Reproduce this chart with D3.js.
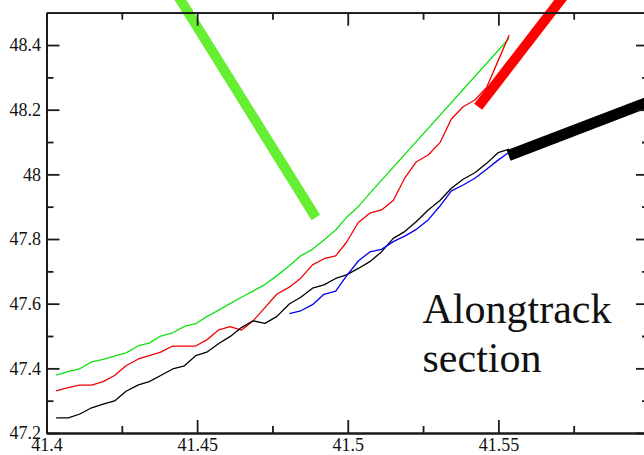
<!DOCTYPE html>
<html>
<head>
<meta charset="utf-8">
<script src="https://cdn.jsdelivr.net/npm/d3@7"></script>
<style>
  html, body { margin: 0; padding: 0; background: #ffffff; }
  svg { display: block; }
  text { font-family: "Liberation Serif", "Times New Roman", serif; fill: #111; }
</style>
</head>
<body>
<svg id="chart" width="644" height="455"></svg>
<script>
// Longitude samples shared by the along-track profiles
const lonFull = [41.4032, 41.4072, 41.4109, 41.4150, 41.4188, 41.4226, 41.4264, 41.4305, 41.4341, 41.4379,
  41.4419, 41.4458, 41.4495, 41.4532, 41.4572, 41.4609, 41.4647, 41.4686, 41.4725, 41.4764,
  41.4806, 41.4844, 41.4883, 41.4921, 41.4960, 41.4996, 41.5035, 41.5073, 41.5112, 41.5151,
  41.5189, 41.5228, 41.5267, 41.5306, 41.5344, 41.5383, 41.5422, 41.5461, 41.5499, 41.5536];

// Green profile (ends with one long straight leg)
const greenLon = [41.4032, 41.4072, 41.4109, 41.4150, 41.4188, 41.4226, 41.4264, 41.4305, 41.4341, 41.4379,
  41.4419, 41.4458, 41.4495, 41.4532, 41.4572, 41.4609, 41.4647, 41.4686, 41.4725, 41.4764,
  41.4806, 41.4844, 41.4883, 41.4921, 41.4960, 41.4996, 41.5035, 41.5073, 41.5536];
const greenLat = [47.379, 47.390, 47.398, 47.420, 47.428, 47.438, 47.448, 47.470, 47.478, 47.500,
  47.510, 47.530, 47.538, 47.560, 47.580, 47.600, 47.620, 47.639, 47.659, 47.686,
  47.717, 47.748, 47.768, 47.797, 47.828, 47.867, 47.900, 47.941, 48.421];

// Red profile
const redLat = [47.330, 47.340, 47.348, 47.348, 47.359, 47.378, 47.408, 47.429, 47.439, 47.450,
  47.469, 47.469, 47.469, 47.488, 47.519, 47.529, 47.518, 47.547, 47.588, 47.629,
  47.651, 47.679, 47.720, 47.739, 47.748, 47.790, 47.851, 47.880, 47.890, 47.919,
  47.988, 48.039, 48.060, 48.098, 48.171, 48.209, 48.230, 48.269, 48.351, 48.431];

// Black profile
const blackLat = [47.247, 47.247, 47.258, 47.278, 47.289, 47.299, 47.329, 47.349, 47.359, 47.378,
  47.398, 47.408, 47.439, 47.450, 47.477, 47.498, 47.526, 47.547, 47.539, 47.560,
  47.599, 47.620, 47.648, 47.658, 47.678, 47.689, 47.709, 47.730, 47.760, 47.802,
  47.823, 47.854, 47.890, 47.919, 47.957, 47.985, 48.005, 48.034, 48.067, 48.078];

// Blue profile (eastern half only)
const blueLon = [41.4806, 41.4844, 41.4883, 41.4921, 41.4960, 41.4996, 41.5035, 41.5073, 41.5112, 41.5151,
  41.5189, 41.5228, 41.5267, 41.5306, 41.5344, 41.5383, 41.5422, 41.5461, 41.5499, 41.5532];
const blueLat = [47.569, 47.578, 47.597, 47.629, 47.639, 47.686, 47.732, 47.760, 47.768, 47.792,
  47.809, 47.830, 47.859, 47.902, 47.949, 47.967, 47.988, 48.016, 48.044, 48.066];

// Satellite ground tracks (start and end points, lon / lat)
const trackGreenLon = [41.4894, 41.4424];
const trackGreenLat = [47.8666, 48.5702];
const trackRedLon = [41.5433, 41.5732];
const trackRedLat = [48.2093, 48.5702];
const trackBlackLon = [41.5534, 41.6035];
const trackBlackLat = [48.0583, 48.2374];

// Axis ticks (the 41.6 tick sits on the right frame edge and carries no label)
const xMajor = [41.4, 41.45, 41.5, 41.55, 41.6];
const xMinor = [41.425, 41.475, 41.525, 41.575];
const xLabels = ["41.4", "41.45", "41.5", "41.55", ""];
const yMajor = [47.2, 47.4, 47.6, 47.8, 48, 48.2, 48.4];
const yMinor = [47.3, 47.5, 47.7, 47.9, 48.1, 48.3];
const yLabels = ["47.2", "47.4", "47.6", "47.8", "48", "48.2", "48.4"];

const noteLines = ["Alongtrack", "section"];

(function draw() {
  const svg = d3.select("#chart");
  const mLeft = 46.5, mRight = 649, mTop = 12.7, mBottom = 433;

  const x = d3.scaleLinear().domain([41.4, 41.6]).range([mLeft, mRight]);
  const y = d3.scaleLinear().domain([47.2, 48.5]).range([mBottom, mTop]);

  const zip = (a, b) => a.map((v, i) => [v, b[i]]);
  const line = d3.line().x(d => x(d[0])).y(d => y(d[1]));

  // Profiles
  const profiles = [
    { pts: zip(greenLon, greenLat), color: "#11e011" },
    { pts: zip(lonFull, redLat), color: "#f00000" },
    { pts: zip(lonFull, blackLat), color: "#000000" },
    { pts: zip(blueLon, blueLat), color: "#0000f0" }
  ];
  svg.append("g").selectAll("path").data(profiles).join("path")
    .attr("d", d => line(d.pts))
    .attr("fill", "none")
    .attr("stroke", d => d.color)
    .attr("stroke-width", 1.3)
    .attr("stroke-linejoin", "round");

  // Ground tracks
  const tracks = [
    { pts: zip(trackGreenLon, trackGreenLat), color: "#66ee33", w: 10 },
    { pts: zip(trackRedLon, trackRedLat), color: "#ff0000", w: 10 },
    { pts: zip(trackBlackLon, trackBlackLat), color: "#000000", w: 11 }
  ];
  svg.append("g").selectAll("path").data(tracks).join("path")
    .attr("d", d => line(d.pts))
    .attr("fill", "none")
    .attr("stroke", d => d.color)
    .attr("stroke-width", d => d.w)
    .attr("stroke-linecap", "butt");

  // Frame axes with inward ticks
  const fmtX = d => xLabels[xMajor.indexOf(d)];
  const fmtY = d => yLabels[yMajor.indexOf(d)];

  function styleAxis(g) {
    g.selectAll("path.domain").attr("stroke", "#1a1a1a").attr("stroke-width", 1.8);
    g.selectAll(".tick line").attr("stroke", "#1a1a1a").attr("stroke-width", 1.8);
    g.selectAll(".tick text").attr("font-size", 18).attr("fill", "#111")
      .attr("font-family", "'Liberation Serif', 'Times New Roman', serif");
  }

  svg.append("g").attr("transform", `translate(0,${mBottom})`)
    .call(d3.axisBottom(x).tickValues(xMinor).tickSizeInner(-7).tickSizeOuter(0).tickFormat(""))
    .call(styleAxis);
  svg.append("g").attr("transform", `translate(0,${mBottom})`)
    .call(d3.axisBottom(x).tickValues(xMajor).tickSizeInner(-13).tickSizeOuter(0).tickPadding(5).tickFormat(fmtX))
    .call(styleAxis);
  svg.append("g").attr("transform", `translate(0,${mTop})`)
    .call(d3.axisTop(x).tickValues(xMinor).tickSizeInner(-7).tickSizeOuter(0).tickFormat(""))
    .call(styleAxis);
  svg.append("g").attr("transform", `translate(0,${mTop})`)
    .call(d3.axisTop(x).tickValues(xMajor).tickSizeInner(-13).tickSizeOuter(0).tickFormat(""))
    .call(styleAxis);

  svg.append("g").attr("transform", `translate(${mLeft},0)`)
    .call(d3.axisLeft(y).tickValues(yMinor).tickSizeInner(-7).tickSizeOuter(0).tickFormat(""))
    .call(styleAxis);
  svg.append("g").attr("transform", `translate(${mLeft},0)`)
    .call(d3.axisLeft(y).tickValues(yMajor).tickSizeInner(-13).tickSizeOuter(0).tickPadding(5.5).tickFormat(fmtY))
    .call(styleAxis);
  svg.append("g").attr("transform", `translate(${mRight},0)`)
    .call(d3.axisRight(y).tickValues(yMinor).tickSizeInner(-7).tickSizeOuter(0).tickFormat(""))
    .call(styleAxis);
  svg.append("g").attr("transform", `translate(${mRight},0)`)
    .call(d3.axisRight(y).tickValues(yMajor).tickSizeInner(-13).tickSizeOuter(0).tickFormat(""))
    .call(styleAxis);

  // Annotation
  svg.append("g").selectAll("text").data(noteLines).join("text")
    .attr("x", 422.5)
    .attr("y", (d, i) => 322.7 + i * 49)
    .attr("font-size", 42)
    .attr("fill", "#111")
    .text(d => d);
})();
</script>
</body>
</html>
